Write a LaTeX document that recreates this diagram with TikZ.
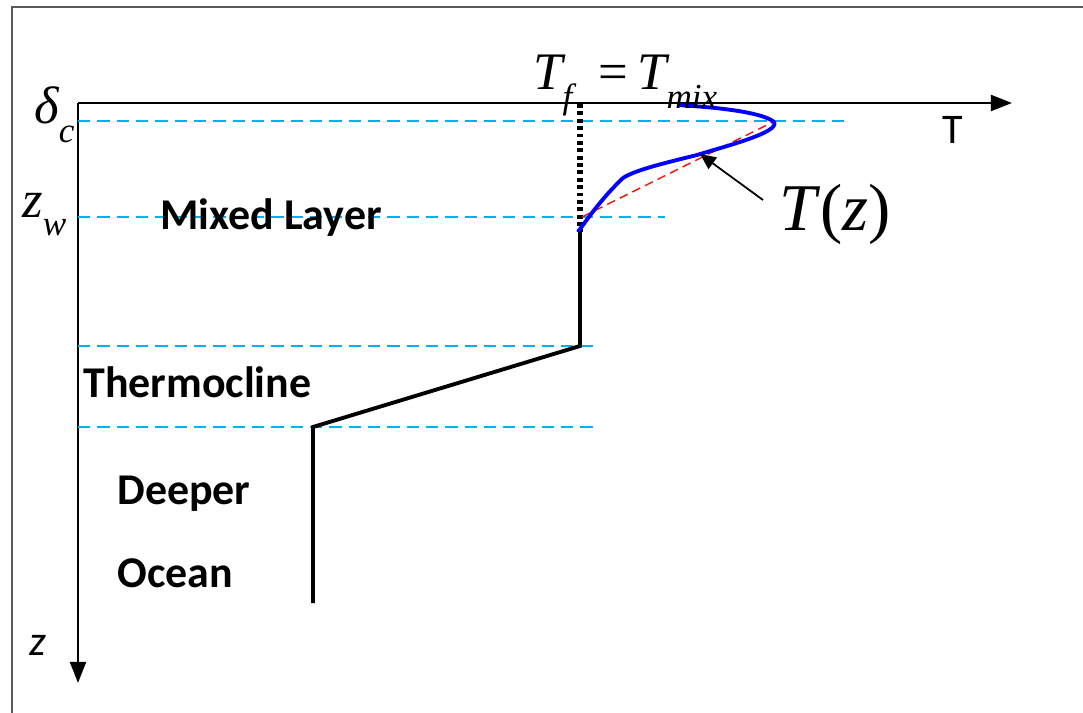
\documentclass[tikz,border=0pt]{standalone}
\usepackage{fontspec}
\setmainfont{Carlito}
\newfontfamily\tnr{Liberation Serif}
\usetikzlibrary{arrows.meta, positioning, calc}
\definecolor{levelcyan}{RGB}{0,176,240}
\newcommand{\sub}[1]{\raisebox{-0.35em}{\fontsize{20}{22}\selectfont #1}}

\begin{document}
\begin{tikzpicture}[
      x=0.02cm, y=-0.02cm,
      axis/.style={-{Triangle[length=12pt, width=9pt]}, line width=1.6pt},
      level/.style={dashed, dash pattern=on 7pt off 4pt, draw=levelcyan, line width=0.6pt},
      profile/.style={line width=2.2pt, black},
      layer/.style={font=\fontsize{25}{29}\selectfont\bfseries, anchor=west, inner sep=0pt},
      mathlbl/.style={font=\tnr\itshape\fontsize{30}{34}\selectfont, inner sep=0pt}
    ]
    \useasboundingbox (0,0) rectangle (1083,713);
    % frame
    \draw[gray!70!black, line width=1pt] (12,713) -- (12,7) -- (1083,7);

    % axes
    \coordinate (o) at (78,103);
    \coordinate (tend) at (1012,103);
    \coordinate (zend) at (78,683);
    \draw[axis] (o) -- (tend);
    \draw[axis] (o) -- (zend);
    \node[font=\fontsize{24}{28}\selectfont] (tlbl) at (953,130) {T};
    \node[font=\fontsize{24}{28}\selectfont\itshape] (zlbl) at (38,645) {z};

    % levels
    \draw[level] (78,121) -- (848,121);
    \draw[level] (78,217) -- (665,217);
    \draw[level] (78,346) -- (598,346);
    \draw[level] (78,427) -- (598,427);

    % temperature profile
    \coordinate (top) at (580,104);
    \coordinate (mlb) at (580,232);
    \coordinate (thtop) at (580,346);
    \coordinate (thbot) at (313,427);
    \coordinate (deep) at (313,603);
    \draw[profile, dotted, line width=3pt] (top) -- (mlb);
    \draw[profile] (mlb) -- (thtop) -- (thbot) -- (deep);

    % T(z) near surface
    \draw[red!90!orange, dashed, dash pattern=on 5pt off 3pt, line width=0.8pt] (582,217) -- (775,121);
    \draw[blue, line width=2.2pt, line join=round]
      (677,105) .. controls (730,108) and (765,114) .. (774,122)
      .. controls (780,132) and (730,145) .. (697,155)
      .. controls (665,163) and (635,170) .. (623,178)
      .. controls (605,195) and (590,215) .. (578,232);

    % labels
    \node[mathlbl, anchor=base west] (tf) at (533,90) {T\sub{f}\,\,\,{\upshape =}\,T\sub{mix}};
    \node[mathlbl, anchor=base west] (dc) at (34,124) {δ\sub{c}};
    \node[mathlbl, anchor=base west] (zw) at (22,217) {z\sub{w}};
    \node[font=\tnr\fontsize{38}{42}\selectfont, inner sep=0pt, anchor=west] (tz) at (779,214) {\textit{T}(\textit{z})};
    \coordinate (tip) at (700,154);
    \draw[-{Triangle[length=9pt, width=8pt]}, line width=1pt] (763,200) -- (tip);

    \node[layer] (ml) at (160,218) {Mixed Layer};
    \node[layer] (th) at (83,382) {Thermocline};
    \node[layer] (dp) at (117,494) {Deeper};
    \node[layer] (oc) at (117,573) {Ocean};
  \end{tikzpicture}
\end{document}
